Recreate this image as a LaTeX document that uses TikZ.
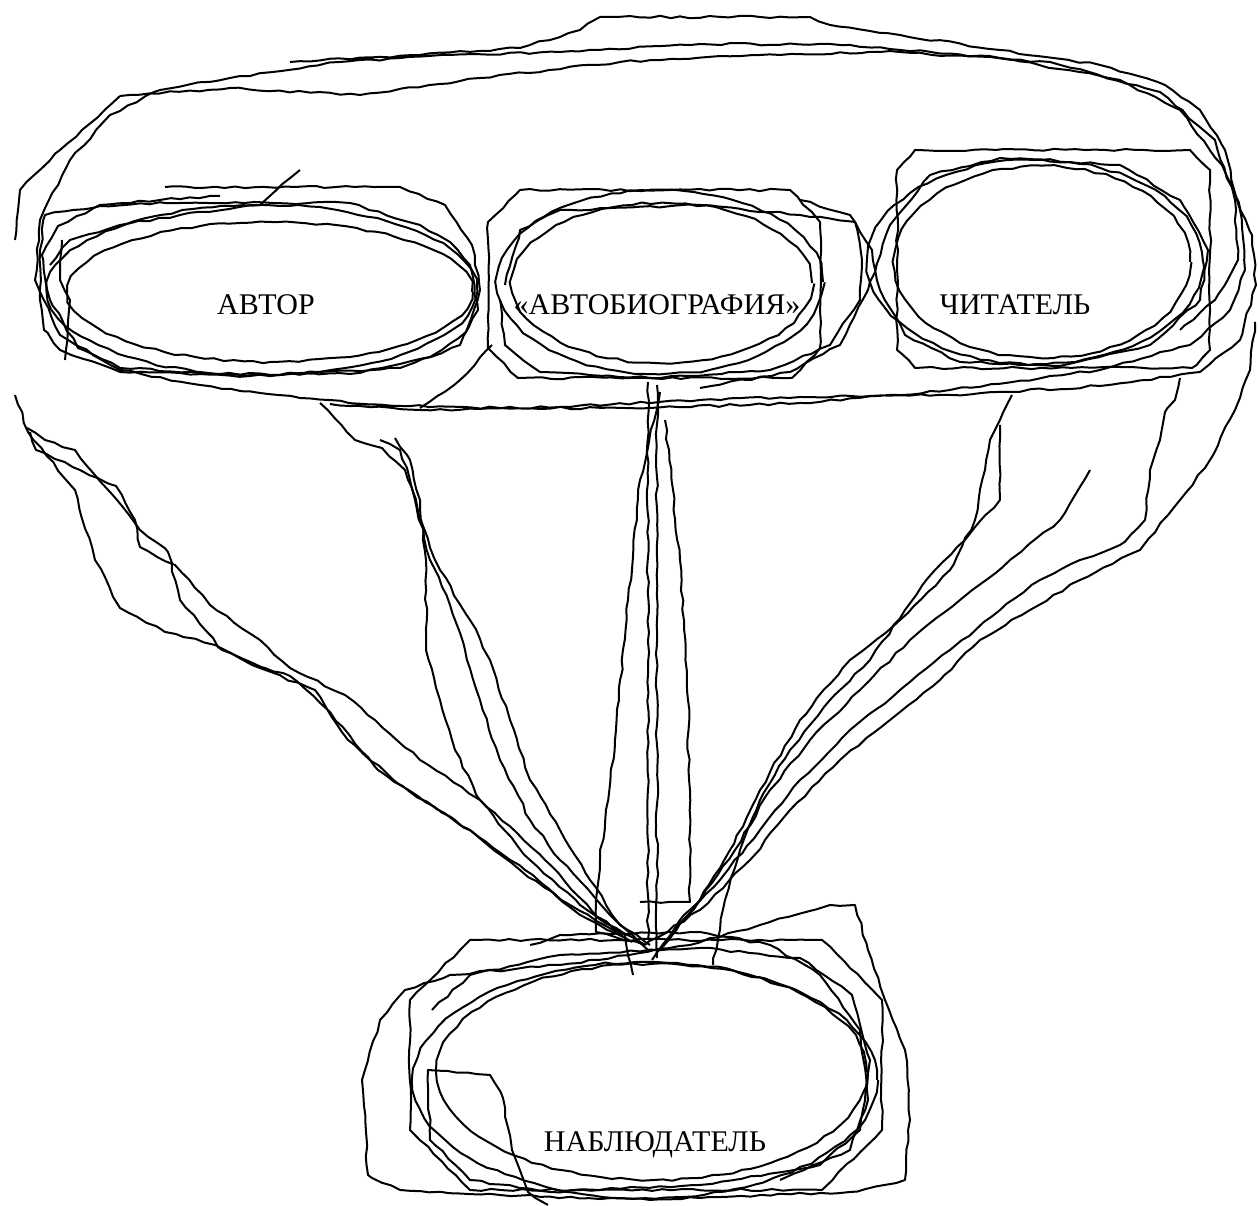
\documentclass[tikz,border=0pt]{standalone}
\usepackage{fontspec}
\setmainfont{Liberation Serif}
\usetikzlibrary{decorations.pathmorphing}
\begin{document}
\begin{tikzpicture}[x=0.25pt,y=-0.25pt,
  scrib/.style={line width=0.5pt, line join=round, decorate,
    decoration={random steps, segment length=2.5pt, amplitude=0.3pt}},
  lbl/.style={font=\fontsize{7.5}{9}\selectfont, inner sep=0pt}]
\pgfmathsetseed{7}
\useasboundingbox[fill=white] (0,0) rectangle (1258,1206);

% labels
\node[lbl] (a) at (266,305) {АВТОР};
\node[lbl] (b) at (657,305) {«АВТОБИОГРАФИЯ»};
\node[lbl] (c) at (1015,305) {ЧИТАТЕЛЬ};
\node[lbl] (n) at (655,1145) {НАБЛЮДАТЕЛЬ};

% ---------- big loop round the top three ----------
\draw[scrib] plot coordinates {
 (290,62) (420,55) (520,48) (580,30) (600,17) (810,17) (830,25) (900,35)
 (1000,50) (1100,65) (1165,85) (1200,110) (1225,150) (1240,210) (1245,270)
 (1230,310) (1190,345) (1100,370) (950,390) (800,403) (650,408) (500,408)
 (400,406) (300,398) (200,385) (120,370) (60,335) (35,280) (40,220) (70,160)
 (110,115) (160,90) (230,78) (340,62) (450,55) (560,52) (700,44) (850,45)
 (1000,58) (1120,80) (1180,110) (1222,165) (1252,235) (1256,285) (1240,340)
 (1200,372) (1100,386) (950,395) (800,397) (700,400) (560,407) (420,410) (330,404)};
\draw[scrib] plot coordinates {
 (120,96) (230,88) (360,95) (480,78) (620,62) (760,55) (900,52) (1050,62)
 (1160,92) (1215,140) (1235,200) (1238,260) (1215,300) (1180,330)};
\draw[scrib] plot coordinates {
 (15,240) (20,190) (60,150) (120,96)};

% ---------- loops round АВТОР ----------
\draw[scrib] (262,290) ellipse [x radius=53.75pt, y radius=21.25pt];
\draw[scrib] (270,292) ellipse [x radius=50.5pt, y radius=17.5pt];
\draw[scrib] plot coordinates {
 (45,215) (100,206) (165,203) (350,203) (420,225) (450,242) (470,265) (478,310) (460,345)
 (400,368) (250,376) (120,372) (60,350) (44,330) (40,300) (40,250)} -- cycle;
\draw[scrib] plot coordinates {
 (165,187) (400,187) (445,205) (472,245) (480,290) (466,332) (430,357)
 (350,374) (220,374) (120,368) (78,348) (50,300) (42,255) (58,226)
 (100,205) (160,200) (220,196)};
\draw[scrib] plot coordinates {
 (50,265) (70,240) (120,225) (180,215) (260,205) (300,170)};
\draw[scrib] plot coordinates {
 (65,360) (70,300) (60,280) (62,240)};

% ---------- loops round «АВТОБИОГРАФИЯ» ----------
\draw[scrib] plot coordinates {(520,190) (790,190) (820,222) (820,348) (792,378)
 (518,378) (488,348) (488,222)} -- cycle;
\draw[scrib] (660,282) ellipse [x radius=40.75pt, y radius=23pt];
\draw[scrib] (662,283) ellipse [x radius=37.5pt, y radius=20pt];
\draw[scrib] plot coordinates {
 (505,285) (520,230) (560,210) (700,205) (800,215) (855,222) (862,260)
 (860,300) (830,345) (770,370) (650,378) (540,372) (505,345) (500,300)};
\draw[scrib] plot coordinates {
 (420,408) (460,380) (492,345)};

% ---------- loops round ЧИТАТЕЛЬ ----------
\draw[scrib] plot coordinates {(915,150) (1190,150) (1210,170) (1210,350) (1192,368)
 (915,368) (897,350) (897,170)} -- cycle;
\draw[scrib] (1035,262) ellipse [x radius=42pt, y radius=25.5pt];
\draw[scrib] (1042,262) ellipse [x radius=37pt, y radius=24pt];
\draw[scrib] plot coordinates {
 (800,200) (850,215) (872,250) (880,290) (905,335) (960,362) (1060,366)
 (1150,345) (1200,300) (1208,250) (1180,200) (1120,165) (1000,158)
 (930,175) (890,225) (868,290) (840,345) (790,372) (700,388)};

% ---------- loops round НАБЛЮДАТЕЛЬ ----------
\draw[scrib] plot coordinates {
 (368,1175) (362,1080) (380,1020) (405,990) (450,975) (560,965) (690,945)
 (760,925) (830,905) (855,905) (868,950) (885,1000) (905,1050) (910,1120)
 (905,1180) (850,1192) (650,1200) (500,1195) (400,1190)} -- cycle;
\draw[scrib] (645,1080) ellipse [x radius=58pt, y radius=29.5pt];
\draw[scrib] plot coordinates {(470,940) (822,940) (882,1000) (882,1130) (822,1190)
 (470,1190) (410,1130) (410,1000)} -- cycle;
\draw[scrib] (652,1072) ellipse [x radius=53.75pt, y radius=27pt];
\draw[scrib] plot coordinates {
 (432,1010) (470,975) (560,955) (700,948) (800,958) (852,995) (870,1060)
 (860,1130) (820,1165) (700,1185) (550,1192) (470,1180) (430,1140) (428,1070)
 (490,1075) (503,1098) (512,1150) (528,1192) (548,1205)};
\draw[scrib] plot coordinates {
 (530,945) (560,935) (700,932) (770,945) (820,975) (860,1030) (868,1100)
 (850,1150) (780,1180)};

% ---------- fan of lines down to НАБЛЮДАТЕЛЬ ----------
\coordinate (hub) at (645,945);
\coordinate (s1) at (15,395);
\coordinate (s2) at (27,428);
\coordinate (s3) at (30,432);
\coordinate (s4) at (320,403);
\coordinate (s5) at (380,440);
\coordinate (s6) at (395,438);
\coordinate (m1) at (648,382);
\coordinate (m2) at (657,385);
\coordinate (m3) at (660,392);
\coordinate (m4) at (665,420);
\coordinate (r1) at (1012,395);
\coordinate (r2) at (1000,425);
\coordinate (r3) at (1180,378);
\coordinate (r4) at (1255,322);
\coordinate (r5) at (1090,470);

\draw[scrib] plot coordinates {(s1) (28,432) (75,490) (95,560)
 (120,608) (165,632) (215,645) (265,668) (290,676) (330,712) (378,770) (410,792)
 (470,830) (525,870) (580,915) (625,938)};
\draw[scrib] plot coordinates {(s2) (45,440) (75,450) (110,492)
 (140,530) (168,552) (180,600) (222,650) (252,665) (315,690) (348,740) (400,785)
 (455,820) (520,870) (570,905) (632,942)};
\draw[scrib] plot coordinates {(s3) (36,450) (80,470) (116,486)
 (135,520) (140,547) (175,565) (210,605) (260,640) (290,668) (345,695) (375,720)
 (420,760) (480,800) (545,860) (598,918) (hub)};
\draw[scrib] plot coordinates {(s4) (355,440) (382,448) (405,470)
 (415,500) (430,560) (450,605) (465,650) (480,700) (500,760) (530,820) (560,860)
 (610,915) (648,950)};
\draw[scrib] plot coordinates {(s5) (400,450) (410,480) (420,520)
 (440,570) (470,620) (490,660) (510,720) (530,780) (560,830) (590,880) (620,925)
 (650,945)};
\draw[scrib] plot coordinates {(s6) (410,460) (420,500) (426,560)
 (426,650) (440,700) (455,750) (480,800) (530,860) (580,905) (625,935) (633,975)};
\draw[scrib] (m1) -- (648,940);
\draw[scrib] (m2) -- (657,958);
\draw[scrib] plot coordinates {(m3) (640,480) (628,600) (615,740)
 (600,860) (596,900) (596,932) (hub)};
\draw[scrib] plot coordinates {(m4) (680,560) (688,700) (690,860)
 (690,902) (640,902)};
\draw[scrib] plot coordinates {(r1) (1000,420) (990,440) (985,470)
 (975,520) (950,570) (900,620) (850,660) (800,720) (760,790) (730,850) (700,900)
 (660,950)};
\draw[scrib] plot coordinates {(r2) (1000,500) (965,540) (935,570)
 (905,610) (870,660) (830,700) (790,750) (760,800) (740,850) (725,900) (713,965)};
\draw[scrib] plot coordinates {(r3) (1175,400) (1165,412) (1160,440)
 (1150,470) (1145,520) (1120,545) (1080,560) (1040,580) (1000,610) (950,650)
 (900,690) (850,730) (800,780) (760,830) (720,880) (680,920) (652,960)};
\draw[scrib] plot coordinates {(r4) (1250,370) (1235,410) (1210,460)
 (1180,500) (1140,550) (1080,580) (1030,610) (980,640) (940,680) (890,720)
 (840,760) (790,810) (750,860) (700,910) (hub)};
\draw[scrib] plot coordinates {(r5) (1060,520) (1010,560) (960,600)
 (910,640) (860,690) (810,740) (770,790) (735,850) (700,900) (668,940)};
\end{tikzpicture}
\end{document}
